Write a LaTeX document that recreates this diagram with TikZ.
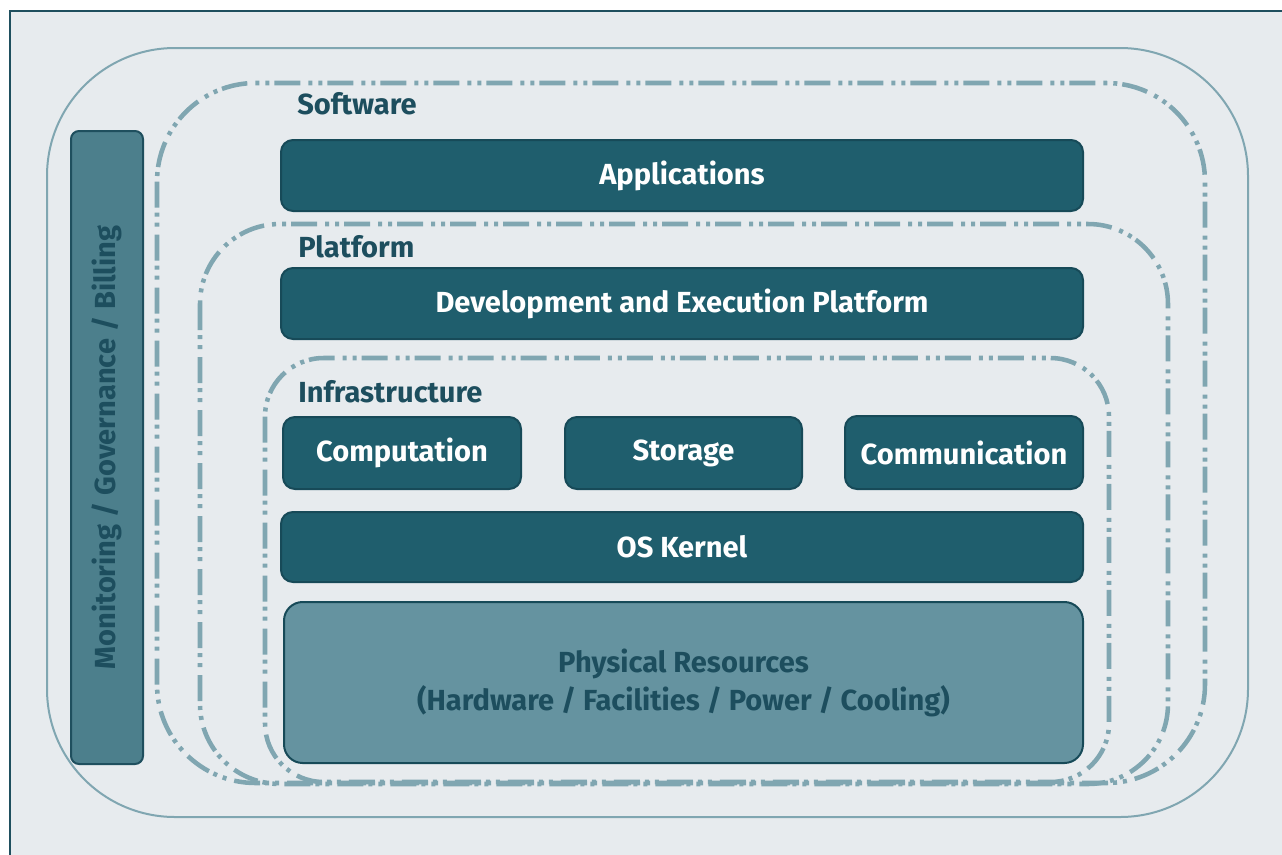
\documentclass[tikz,border=0pt]{standalone}
\usepackage{fontspec}
\setmainfont{Fira Sans}
\usepackage{tikz}

\definecolor{panelbg}{HTML}{E7EBEE}
\definecolor{panelline}{HTML}{1F4F5E}
\definecolor{layerfill}{HTML}{1F5E6D}
\definecolor{layerline}{HTML}{174A58}
\definecolor{labeltext}{HTML}{1D4E5E}
\definecolor{ringline}{HTML}{80A6B1}
\definecolor{barfill}{HTML}{4C7F8C}
\definecolor{physfill}{HTML}{6593A0}

\begin{document}
\begin{tikzpicture}[x=0.75pt,y=-0.75pt,every node/.style={font=\bfseries\fontsize{21.8}{28.5}\selectfont},
  layerbox/.style={draw=layerline,line width=1.5pt,fill=layerfill,rounded corners=9pt,text=white,inner sep=0pt},
  ringbox/.style={draw=ringline,line width=3.4pt,rounded corners=#1,
    dash pattern=on 19.5pt off 3.75pt on 3pt off 4.5pt on 3pt off 6pt},
  layerlabel/.style={text=labeltext,anchor=west,inner sep=0pt}]
  \useasboundingbox (0,0) rectangle (1282,854);
  % panel
  \fill[white] (0,0) rectangle (1282,854);
  \fill[panelbg] (10,11) rectangle (1290,870);
  \draw[panelline,line width=1.5pt] (10,870) -- (10,11) -- (1290,11);
  % outer solid ring
  \draw[ringline,line width=1.5pt,rounded corners=96pt] (47,48) rectangle (1248,817);
  % dash-dot rings
  \draw[ringbox=74pt] (157,83) rectangle (1205,783);
  \draw[ringbox=60pt] (200,224) rectangle (1168,784);
  \draw[ringbox=44pt] (265,358) rectangle (1109,782);
  % monitoring bar
  \node[draw=panelline,line width=1.5pt,fill=barfill,rounded corners=6pt,
    minimum width=54pt,minimum height=474.75pt,inner sep=0pt] (monitor) at (107,447.5) {};
  \node[rotate=90,text=labeltext] (monitortext) at (monitor.center) {Monitoring / Governance / Billing};
  % layer labels
  \node[layerlabel] (software) at (297,104) {Software};
  \node[layerlabel] (platform) at (298,247) {Platform};
  \node[layerlabel] (infra) at (298,392) {Infrastructure};
  % layers
  \node[layerbox,minimum width=601.5pt,minimum height=53.25pt] (apps) at (682,175.5) {Applications};
  \node[layerbox,minimum width=601.5pt,minimum height=53.25pt] (devexec) at (682,303.5) {Development and Execution Platform};
  \node[layerbox,minimum width=178.5pt,minimum height=54pt] (comp) at (402,453) {Computation};
  \node[layerbox,minimum width=177.75pt,minimum height=54pt] (storage) at (683.5,453) {Storage};
  \node[layerbox,minimum width=178.5pt,minimum height=54.75pt] (comm) at (964,452.5) {Communication};
  \node[layerbox,minimum width=601.5pt,minimum height=52.5pt] (kernel) at (682,547) {OS Kernel};
  \node[layerbox,fill=physfill,draw=layerline,text=labeltext,rounded corners=14pt,align=center,
    minimum width=599.25pt,minimum height=120.75pt] (phys) at (683.5,682.5)
    {Physical Resources\\(Hardware / Facilities / Power / Cooling)};
\end{tikzpicture}
\end{document}
